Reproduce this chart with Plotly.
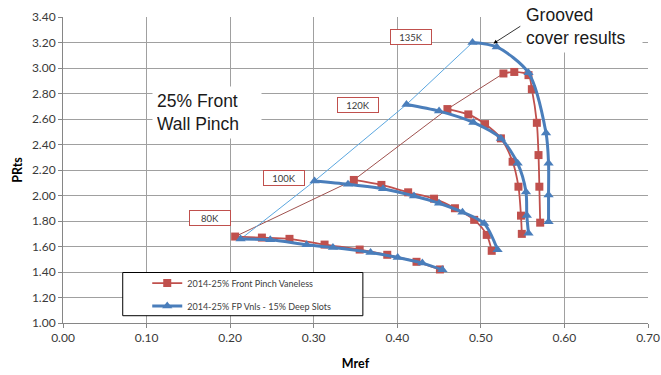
import plotly.graph_objects as go

# ---------------- data ----------------
speeds = ["80K", "100K", "120K", "135K"]

red_80k_x = [0.206, 0.238, 0.271, 0.313, 0.355, 0.388, 0.423, 0.451]
red_80k_y = [1.678, 1.670, 1.660, 1.615, 1.576, 1.535, 1.480, 1.420]
red_100k_x = [0.348, 0.381, 0.413, 0.444, 0.469, 0.492, 0.507, 0.513]
red_100k_y = [2.122, 2.083, 2.025, 1.975, 1.900, 1.809, 1.691, 1.566]
red_120k_x = [0.460, 0.485, 0.505, 0.524, 0.538, 0.545, 0.548, 0.549]
red_120k_y = [2.678, 2.636, 2.560, 2.448, 2.265, 2.069, 1.842, 1.699]
red_135k_x = [0.527, 0.540, 0.557, 0.561, 0.567, 0.569, 0.570, 0.571]
red_135k_y = [2.957, 2.969, 2.944, 2.834, 2.570, 2.317, 2.069, 1.787]

blue_80k_x = [0.2125, 0.248, 0.2915, 0.323, 0.368, 0.4005, 0.430, 0.454]
blue_80k_y = [1.658, 1.652, 1.613, 1.592, 1.553, 1.514, 1.470, 1.417]
blue_100k_x = [0.301, 0.341, 0.383, 0.420, 0.450, 0.478, 0.504, 0.520]
blue_100k_y = [2.114, 2.088, 2.053, 1.996, 1.939, 1.869, 1.780, 1.574]
blue_120k_x = [0.411, 0.450, 0.491, 0.524, 0.544, 0.554, 0.555, 0.557]
blue_120k_y = [2.714, 2.662, 2.573, 2.448, 2.252, 2.028, 1.844, 1.704]
blue_135k_x = [0.490, 0.519, 0.557, 0.578, 0.581, 0.581, 0.581]
blue_135k_y = [3.200, 3.165, 2.962, 2.490, 2.252, 2.004, 1.795]

red_name = "2014-25% Front Pinch Vaneless"
blue_name = "2014-25% FP Vnls - 15% Deep Slots"

x_ticks = [0.0, 0.1, 0.2, 0.3, 0.4, 0.5, 0.6, 0.7]
y_ticks = [1.0, 1.2, 1.4, 1.6, 1.8, 2.0, 2.2, 2.4, 2.6, 2.8, 3.0, 3.2, 3.4]

red_groups_x = [red_80k_x, red_100k_x, red_120k_x, red_135k_x]
red_groups_y = [red_80k_y, red_100k_y, red_120k_y, red_135k_y]
blue_groups_x = [blue_80k_x, blue_100k_x, blue_120k_x, blue_135k_x]
blue_groups_y = [blue_80k_y, blue_100k_y, blue_120k_y, blue_135k_y]


def join(gx, gy):
    xs, ys = [], []
    for a, b in zip(gx, gy):
        if xs:
            xs.append(None)
            ys.append(None)
        xs += a
        ys += b
    return xs, ys


RED = "#C0504D"
BLUE = "#4A7EBB"
TXT = "#3a3a3a"
GRID = "#a0a0a0"

fig = go.Figure()

# surge lines through first points of each speed line
fig.add_trace(go.Scatter(
    x=[g[0] for g in red_groups_x], y=[g[0] for g in red_groups_y],
    mode="lines", line=dict(color="#A0524F", width=1), showlegend=False,
    hoverinfo="skip"))
fig.add_trace(go.Scatter(
    x=[g[0] for g in blue_groups_x], y=[g[0] for g in blue_groups_y],
    mode="lines", line=dict(color="#5BA7E0", width=1), showlegend=False,
    hoverinfo="skip"))

rx, ry = join(red_groups_x, red_groups_y)
bx, by = join(blue_groups_x, blue_groups_y)

fig.add_trace(go.Scatter(
    x=rx, y=ry, name=red_name, mode="lines+markers", legendgroup="r",
    line=dict(color=RED, width=1.8, shape="spline", smoothing=0.8),
    marker=dict(symbol="square", size=8, color=RED),
    connectgaps=False))
fig.add_trace(go.Scatter(
    x=bx, y=by, name=blue_name, mode="lines+markers", legendgroup="b",
    line=dict(color=BLUE, width=3, shape="spline", smoothing=0.8),
    marker=dict(symbol="triangle-up", size=9, color=BLUE),
    connectgaps=False))

# legend box
fig.add_shape(type="rect", xref="paper", yref="paper",
              x0=0.1021, x1=0.5126, y0=0.0238, y1=0.165,
              line=dict(color="#000000", width=1), fillcolor="white",
              layer="above")

label_pos = [(0.1757, 1.824), (0.264, 2.141), (0.353, 2.713), (0.4164, 3.247)]
annotations = []
for s, (lx, ly) in zip(speeds, label_pos):
    annotations.append(dict(
        x=lx, y=ly, xref="x", yref="y", text=s, showarrow=False,
        font=dict(family="Lato", size=9.5, color=TXT),
        bgcolor="white", bordercolor=RED, borderwidth=1, borderpad=0,
        width=40, height=14))

annotations.append(dict(
    x=(152 - 63.3) / 835, y=2.650, xref="x", yref="y", xanchor="left",
    text="25% Front<br>Wall Pinch", showarrow=False, align="left",
    font=dict(family="Liberation Sans", size=17.5, color="#1a1a1a"),
    bgcolor="white", borderpad=4, width=100))

annotations.append(dict(
    x=0.548, y=3.327, xref="x", yref="y", xanchor="left",
    text="Grooved<br>cover results", showarrow=False, align="left",
    font=dict(family="Liberation Sans", size=17.5, color="#1a1a1a"),
    bgcolor="white", borderpad=4, width=112))

annotations.append(dict(
    x=0.515, y=3.192, xref="x", yref="y", ax=0.549, ay=3.335,
    axref="x", ayref="y", text="", showarrow=True, arrowhead=2,
    arrowsize=1, arrowwidth=0.8, arrowcolor="#000000"))

fig.update_layout(
    template="none",
    width=661, height=375,
    margin=dict(l=63, r=13, t=17, b=52),
    paper_bgcolor="white", plot_bgcolor="white",
    font=dict(family="Lato", color=TXT),
    showlegend=True,
    legend=dict(x=0.144, y=0.178, xanchor="left", yanchor="top",
                bgcolor="rgba(0,0,0,0)", borderwidth=0,
                font=dict(family="Lato", size=9, color="#404040"),
                tracegroupgap=4, itemwidth=30),
    annotations=annotations,
    xaxis=dict(range=[0, 0.7], tickvals=x_ticks, tickformat=".2f",
               showgrid=True, gridcolor=GRID, gridwidth=1,
               showline=True, linecolor="#868686", linewidth=1,
               ticks="outside", ticklen=4, tickcolor="#868686",
               zeroline=False, automargin=False,
               tickfont=dict(family="Lato", size=12, color=TXT),
               title=dict(text="<b>Mref</b>", standoff=14,
                          font=dict(family="Lato", size=12.5, color="#000000"))),
    yaxis=dict(range=[1.0, 3.4], tickvals=y_ticks, tickformat=".2f",
               showgrid=True, gridcolor=GRID, gridwidth=1,
               showline=True, linecolor="#868686", linewidth=1,
               ticks="outside", ticklen=4, tickcolor="#868686",
               zeroline=False, automargin=False,
               tickfont=dict(family="Lato", size=12, color=TXT),
               title=dict(text="<b>PRts</b>", standoff=6,
                          font=dict(family="Lato", size=12.5, color="#000000"))),
)

fig.write_html("out.html")
